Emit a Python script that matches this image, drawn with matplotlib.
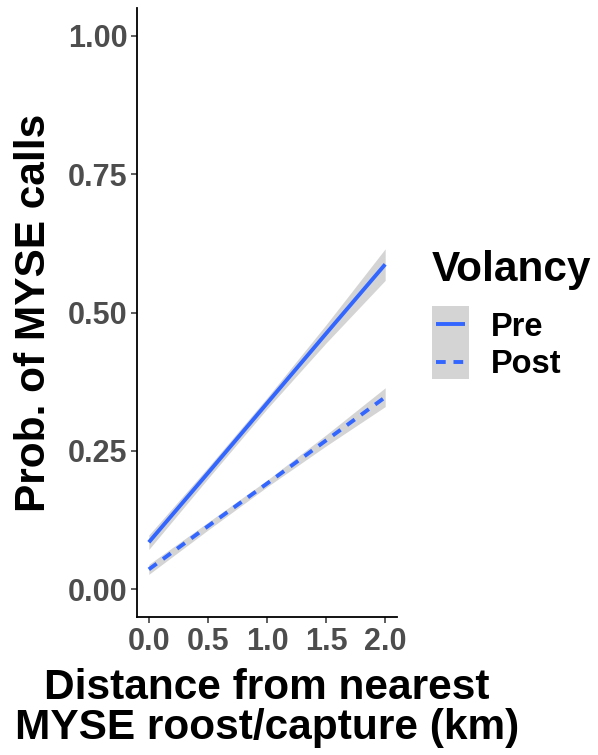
import matplotlib
matplotlib.use("Agg")
import matplotlib.pyplot as plt
from matplotlib.lines import Line2D
from matplotlib.patches import Rectangle
import numpy as np

plt.rcParams['font.family'] = ['Liberation Sans', 'DejaVu Sans']

# Predicted probability of MYSE calls vs distance, by volancy period
distance = [0.0, 0.5, 1.0, 1.5, 2.0]
pre_fit = [0.085, 0.210, 0.336, 0.462, 0.587]
pre_lo = [0.072, 0.200, 0.326, 0.445, 0.558]
pre_hi = [0.098, 0.220, 0.346, 0.478, 0.615]
post_fit = [0.036, 0.114, 0.191, 0.269, 0.347]
post_lo = [0.027, 0.107, 0.185, 0.259, 0.330]
post_hi = [0.045, 0.121, 0.197, 0.279, 0.364]

x_ticks = [0.0, 0.5, 1.0, 1.5, 2.0]
x_tick_labels = ["0.0", "0.5", "1.0", "1.5", "2.0"]
y_ticks = [0.0, 0.25, 0.5, 0.75, 1.0]
y_tick_labels = ["0.00", "0.25", "0.50", "0.75", "1.00"]

series_labels = ["Pre", "Post"]
legend_title = "Volancy"

blue = "#3366FF"
band = "#D4D4D4"

fig = plt.figure(figsize=(5.98, 7.55), dpi=100)
ax = fig.add_axes([137 / 598, 1 - 617 / 755, (397 - 137) / 598, (617 - 8) / 755])

ax.fill_between(distance, pre_lo, pre_hi, color=band, lw=0)
ax.fill_between(distance, post_lo, post_hi, color=band, lw=0)
ax.plot(distance, pre_fit, color=blue, lw=2.8, solid_capstyle='butt')
ax.plot(distance, post_fit, color=blue, lw=2.8, dashes=(2.5, 2.0), dash_capstyle='butt')

ax.set_xlim(-0.1, 2.1)
ax.set_ylim(-0.05, 1.05)
ax.set_xticks(x_ticks)
ax.set_xticklabels(x_tick_labels)
ax.set_yticks(y_ticks)
ax.set_yticklabels(y_tick_labels)

for s in ["top", "right"]:
    ax.spines[s].set_visible(False)
for s in ["left", "bottom"]:
    ax.spines[s].set_linewidth(1.3)
    ax.spines[s].set_color("black")

ax.tick_params(axis='both', length=4, width=1.1, color="#333333",
               labelsize=22, labelcolor="#4D4D4D", pad=3)
for lab in ax.get_xticklabels() + ax.get_yticklabels():
    lab.set_fontweight('bold')

ax.set_ylabel("Prob. of MYSE calls", fontsize=30.5, fontweight='bold', labelpad=10)
ax.set_xlabel("Distance from nearest\nMYSE roost/capture (km)", fontsize=30.5,
              fontweight='bold', labelpad=8, linespacing=1.0)

# Legend: title, shaded key box, line keys and labels
fig.text(432 / 598, 1 - 281 / 755, legend_title, fontsize=30.5, fontweight='bold',
         va='baseline', ha='left')
fig.patches.append(Rectangle((432 / 598, 1 - 379 / 755), 37 / 598, 73 / 755,
                             transform=fig.transFigure, color=band, lw=0))
fig.lines.append(Line2D([436 / 598, 465 / 598], [1 - 324 / 755] * 2,
                        transform=fig.transFigure, color=blue, lw=2.8,
                        solid_capstyle='butt'))
fig.lines.append(Line2D([436 / 598, 465 / 598], [1 - 362 / 755] * 2,
                        transform=fig.transFigure, color=blue, lw=2.8,
                        dashes=(2.5, 2.0), dash_capstyle='butt'))
fig.text(491 / 598, 1 - 336 / 755, series_labels[0], fontsize=23.5, fontweight='bold',
         va='baseline', ha='left')
fig.text(491 / 598, 1 - 373 / 755, series_labels[1], fontsize=23.5, fontweight='bold',
         va='baseline', ha='left')

fig.savefig("out.png", dpi=100)
